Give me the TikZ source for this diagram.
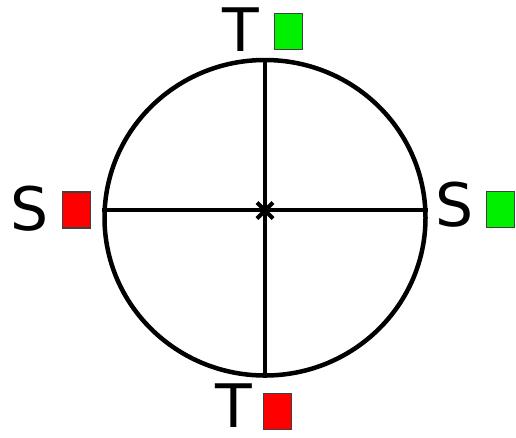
\documentclass[tikz,border=0pt]{standalone}
\usepackage{fontspec}
\setmainfont{DejaVu Sans}
\usepackage{tikz}
\usetikzlibrary{positioning,shapes.geometric,shapes.misc}
\definecolor{okgreen}{RGB}{0,240,0}
\definecolor{badred}{RGB}{255,0,0}
\tikzset{
  ring/.style={ellipse, draw=black, line width=4.5pt, inner sep=0pt, minimum width=321pt, minimum height=315.5pt},
  axis/.style={draw=black, line width=4.5pt},
  letter/.style={inner sep=0pt, font=\fontsize{60}{60}\selectfont},
  flag/.style={rectangle, draw=black!75, line width=1.2pt, inner sep=0pt, minimum width=28pt, minimum height=36pt},
  centre/.style={cross out, draw=black, line width=4pt, inner sep=0pt, minimum size=12pt}
}
\begin{document}
\begin{tikzpicture}[x=1pt, y=-1pt]
\useasboundingbox (0,0) rectangle (516,437);
\node[ring] (c) at (265,217.75) {};
\path (c.west) ++(0,-7.75) coordinate (w);
\path (c.east) ++(0,-7.75) coordinate (e);
\draw[axis] (c.north) -- (c.south);
\draw[axis] (w) -- (e);
\node[centre] (o) at (265,210.5) {};
% labels
\node[letter] (tn) at (241,30) {T};
\node[letter] (tsouth) at (234,406) {T};
\node[letter] (sw) at (30,209) {S};
\node[letter] (se) at (455,205) {S};
\node[flag, fill=okgreen] (gn) at (288.5,31.5) {};
\node[flag, fill=badred] (rs) at (277.5,411.5) {};
\node[flag, fill=badred] (rw) at (76.5,210) {};
\node[flag, fill=okgreen] (ge) at (500.5,209.5) {};
\end{tikzpicture}
\end{document}
